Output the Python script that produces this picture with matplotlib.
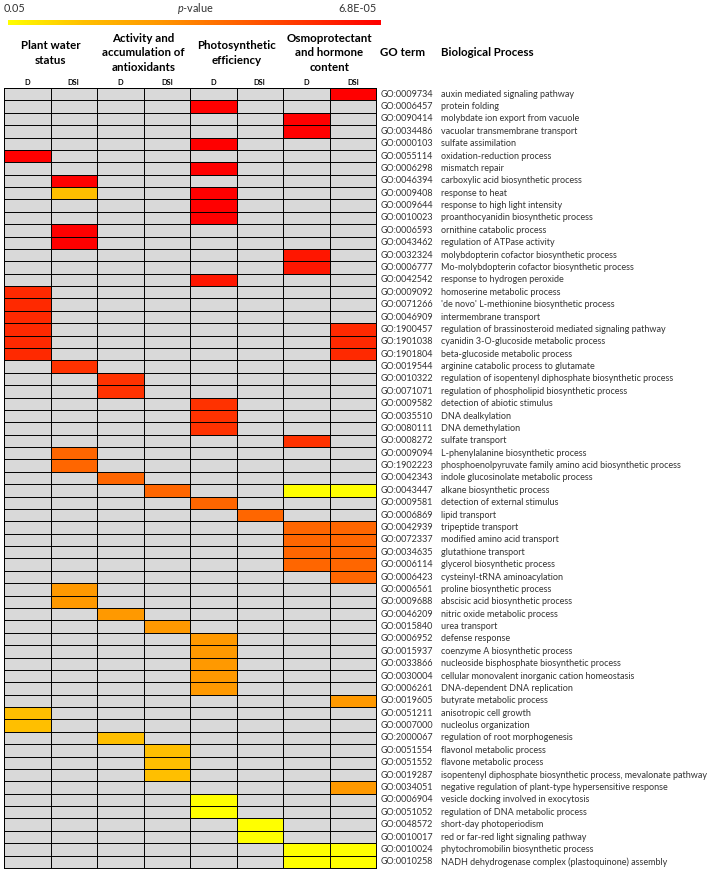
import matplotlib

matplotlib.use('Agg')
import matplotlib.pyplot as plt
import numpy as np
from matplotlib.colors import LinearSegmentedColormap, Normalize
from matplotlib.transforms import blended_transform_factory

plt.rcParams['font.family'] = ['Lato', 'DejaVu Sans']
plt.rcParams['mathtext.fontset'] = 'custom'
plt.rcParams['mathtext.it'] = 'Lato:italic'
plt.rcParams['mathtext.rm'] = 'Lato'

go_terms = [
    'GO:0009734', 'GO:0006457', 'GO:0090414', 'GO:0034486', 'GO:0000103',
    'GO:0055114', 'GO:0006298', 'GO:0046394', 'GO:0009408', 'GO:0009644',
    'GO:0010023', 'GO:0006593', 'GO:0043462', 'GO:0032324', 'GO:0006777',
    'GO:0042542', 'GO:0009092', 'GO:0071266', 'GO:0046909', 'GO:1900457',
    'GO:1901038', 'GO:1901804', 'GO:0019544', 'GO:0010322', 'GO:0071071',
    'GO:0009582', 'GO:0035510', 'GO:0080111', 'GO:0008272', 'GO:0009094',
    'GO:1902223', 'GO:0042343', 'GO:0043447', 'GO:0009581', 'GO:0006869',
    'GO:0042939', 'GO:0072337', 'GO:0034635', 'GO:0006114', 'GO:0006423',
    'GO:0006561', 'GO:0009688', 'GO:0046209', 'GO:0015840', 'GO:0006952',
    'GO:0015937', 'GO:0033866', 'GO:0030004', 'GO:0006261', 'GO:0019605',
    'GO:0051211', 'GO:0007000', 'GO:2000067', 'GO:0051554', 'GO:0051552',
    'GO:0019287', 'GO:0034051', 'GO:0006904', 'GO:0051052', 'GO:0048572',
    'GO:0010017', 'GO:0010024', 'GO:0010258',
]

processes = [
    'auxin mediated signaling pathway',
    'protein folding',
    'molybdate ion export from vacuole',
    'vacuolar transmembrane transport',
    'sulfate assimilation',
    'oxidation-reduction process',
    'mismatch repair',
    'carboxylic acid biosynthetic process',
    'response to heat',
    'response to high light intensity',
    'proanthocyanidin biosynthetic process',
    'ornithine catabolic process',
    'regulation of ATPase activity',
    'molybdopterin cofactor biosynthetic process',
    'Mo-molybdopterin cofactor biosynthetic process',
    'response to hydrogen peroxide',
    'homoserine metabolic process',
    "'de novo' L-methionine biosynthetic process",
    'intermembrane transport',
    'regulation of brassinosteroid mediated signaling pathway',
    'cyanidin 3-O-glucoside metabolic process',
    'beta-glucoside metabolic process',
    'arginine catabolic process to glutamate',
    'regulation of isopentenyl diphosphate biosynthetic process',
    'regulation of phospholipid biosynthetic process',
    'detection of abiotic stimulus',
    'DNA dealkylation',
    'DNA demethylation',
    'sulfate transport',
    'L-phenylalanine biosynthetic process',
    'phosphoenolpyruvate family amino acid biosynthetic process',
    'indole glucosinolate metabolic process',
    'alkane biosynthetic process',
    'detection of external stimulus',
    'lipid transport',
    'tripeptide transport',
    'modified amino acid transport',
    'glutathione transport',
    'glycerol biosynthetic process',
    'cysteinyl-tRNA aminoacylation',
    'proline biosynthetic process',
    'abscisic acid biosynthetic process',
    'nitric oxide metabolic process',
    'urea transport',
    'defense response',
    'coenzyme A biosynthetic process',
    'nucleoside bisphosphate biosynthetic process',
    'cellular monovalent inorganic cation homeostasis',
    'DNA-dependent DNA replication',
    'butyrate metabolic process',
    'anisotropic cell growth',
    'nucleolus organization',
    'regulation of root morphogenesis',
    'flavonol metabolic process',
    'flavone metabolic process',
    'isopentenyl diphosphate biosynthetic process, mevalonate pathway',
    'negative regulation of plant-type hypersensitive response',
    'vesicle docking involved in exocytosis',
    'regulation of DNA metabolic process',
    'short-day photoperiodism',
    'red or far-red light signaling pathway',
    'phytochromobilin biosynthetic process',
    'NADH dehydrogenase complex (plastoquinone) assembly',
]

groups = [
    'Plant water\nstatus',
    'Activity and\naccumulation of\nantioxidants',
    'Photosynthetic\nefficiency',
    'Osmoprotectant\nand hormone\ncontent',
]
conditions = ['D', 'DSI']

# p-values (only significant cells)
pw_D = {
    'GO:0055114': 6.8e-5, 'GO:0009092': 2.0e-4, 'GO:0071266': 2.0e-4,
    'GO:0046909': 2.0e-4, 'GO:1900457': 2.0e-4, 'GO:1901038': 2.0e-4,
    'GO:1901804': 2.0e-4, 'GO:0051211': 1.3e-2, 'GO:0007000': 1.3e-2,
}
pw_DSI = {
    'GO:0046394': 6.8e-5, 'GO:0009408': 1.3e-2, 'GO:0006593': 6.8e-5,
    'GO:0043462': 6.8e-5, 'GO:0019544': 2.5e-4, 'GO:0009094': 9.5e-4,
    'GO:1902223': 9.5e-4, 'GO:0006561': 3.6e-3, 'GO:0009688': 3.6e-3,
}
aa_D = {
    'GO:0010322': 2.5e-4, 'GO:0071071': 2.5e-4, 'GO:0042343': 9.5e-4,
    'GO:0046209': 3.6e-3, 'GO:2000067': 1.3e-2,
}
aa_DSI = {
    'GO:0043447': 9.5e-4, 'GO:0015840': 3.6e-3, 'GO:0051554': 1.3e-2,
    'GO:0051552': 1.3e-2, 'GO:0019287': 1.3e-2,
}
ps_D = {
    'GO:0006457': 6.8e-5, 'GO:0000103': 6.8e-5, 'GO:0006298': 6.8e-5,
    'GO:0009408': 6.8e-5, 'GO:0009644': 6.8e-5, 'GO:0010023': 6.8e-5,
    'GO:0042542': 1.2e-4, 'GO:0009582': 2.5e-4, 'GO:0035510': 2.5e-4,
    'GO:0080111': 2.5e-4, 'GO:0009581': 9.5e-4, 'GO:0006952': 3.6e-3,
    'GO:0015937': 3.6e-3, 'GO:0033866': 3.6e-3, 'GO:0030004': 3.6e-3,
    'GO:0006261': 3.6e-3, 'GO:0006904': 5.0e-2, 'GO:0051052': 5.0e-2,
}
ps_DSI = {
    'GO:0006869': 9.5e-4, 'GO:0048572': 5.0e-2, 'GO:0010017': 5.0e-2,
}
os_D = {
    'GO:0090414': 6.8e-5, 'GO:0034486': 6.8e-5, 'GO:0032324': 1.2e-4,
    'GO:0006777': 1.2e-4, 'GO:0008272': 2.5e-4, 'GO:0043447': 5.0e-2,
    'GO:0042939': 9.5e-4, 'GO:0072337': 9.5e-4, 'GO:0034635': 9.5e-4,
    'GO:0006114': 9.5e-4, 'GO:0010024': 5.0e-2, 'GO:0010258': 5.0e-2,
}
os_DSI = {
    'GO:0009734': 6.8e-5, 'GO:1900457': 2.0e-4, 'GO:1901038': 2.0e-4,
    'GO:1901804': 2.0e-4, 'GO:0043447': 5.0e-2, 'GO:0042939': 9.5e-4,
    'GO:0072337': 9.5e-4, 'GO:0034635': 9.5e-4, 'GO:0006114': 9.5e-4,
    'GO:0006423': 9.5e-4, 'GO:0019605': 3.6e-3, 'GO:0034051': 3.6e-3,
    'GO:0010024': 5.0e-2, 'GO:0010258': 5.0e-2,
}
columns = [pw_D, pw_DSI, aa_D, aa_DSI, ps_D, ps_DSI, os_D, os_DSI]

P_LOW, P_HIGH = 6.8e-5, 0.05

W, H = 708, 874
fig = plt.figure(figsize=(W / 100, H / 100), dpi=100)


def fx(px):
    return px / W


def fy(py):
    return 1 - py / H


n_rows, n_cols = len(go_terms), len(columns)
score = np.full((n_rows, n_cols), np.nan)
for j, col in enumerate(columns):
    for go, p in col.items():
        score[go_terms.index(go), j] = -np.log10(p)

cmap = LinearSegmentedColormap.from_list(
    'pval', ['#FFFF00', '#FFC000', '#FF9900', '#FF6600', '#FF3300', '#FF0000']
)
norm = Normalize(-np.log10(P_HIGH), -np.log10(P_LOW))

# heatmap grid
gx0, gx1, gy0, gy1 = 4, 376, 88, 868
ax = fig.add_axes([fx(gx0), fy(gy1), (gx1 - gx0) / W, (gy1 - gy0) / H])
ax.set_facecolor('#D9D9D9')
ax.pcolormesh(np.ma.masked_invalid(score), cmap=cmap, norm=norm)
ax.set_xlim(0, n_cols)
ax.set_ylim(n_rows, 0)
ax.hlines(np.arange(n_rows + 1), 0, n_cols, colors='black', linewidth=0.7)
ax.vlines(np.arange(n_cols + 1), 0, n_rows, colors='black', linewidth=0.7)
ax.set_xticks([])
ax.set_yticks([])
for spine in ax.spines.values():
    spine.set_linewidth(0.7)

trans = blended_transform_factory(fig.transFigure, ax.transData)
for i, (go, proc) in enumerate(zip(go_terms, processes)):
    ax.text(fx(381), i + 0.5, go, transform=trans, fontsize=6.5,
            va='center', ha='left', color='#333333', clip_on=False)
    ax.text(fx(441), i + 0.5, proc, transform=trans, fontsize=6.5,
            va='center', ha='left', color='#333333', clip_on=False)

# column headers
col_w = (gx1 - gx0) / n_cols
for j in range(n_cols):
    fig.text(fx(gx0 + col_w * (j + 0.5)), fy(82.5), conditions[j % 2],
             fontsize=5.3, fontweight='bold', ha='center', va='center')
for g, name in enumerate(groups):
    fig.text(fx(gx0 + col_w * (2 * g + 1)), fy(53), name, fontsize=8.3,
             fontweight='bold', ha='center', va='center', linespacing=1.4)
fig.text(fx(403), fy(53), 'GO term', fontsize=8.3, fontweight='bold',
         ha='center', va='center')
fig.text(fx(441), fy(53), 'Biological Process', fontsize=8.3,
         fontweight='bold', ha='left', va='center')

# colour scale bar
cax = fig.add_axes([fx(8), fy(25.5), 372 / W, 5.5 / H])
cax.imshow(np.linspace(0, 1, 256)[None, :], cmap=cmap, aspect='auto')
cax.set_axis_off()
fig.text(fx(4), fy(8), '0.05', fontsize=7.8, ha='left', va='center',
         color='#333333')
fig.text(fx(195), fy(8), r'$p$-value', fontsize=7.8, ha='center',
         va='center', color='#333333')
fig.text(fx(377), fy(8), '6.8E-05', fontsize=7.8, ha='right', va='center',
         color='#333333')

fig.savefig('out.png', dpi=100)
plt.close(fig)
